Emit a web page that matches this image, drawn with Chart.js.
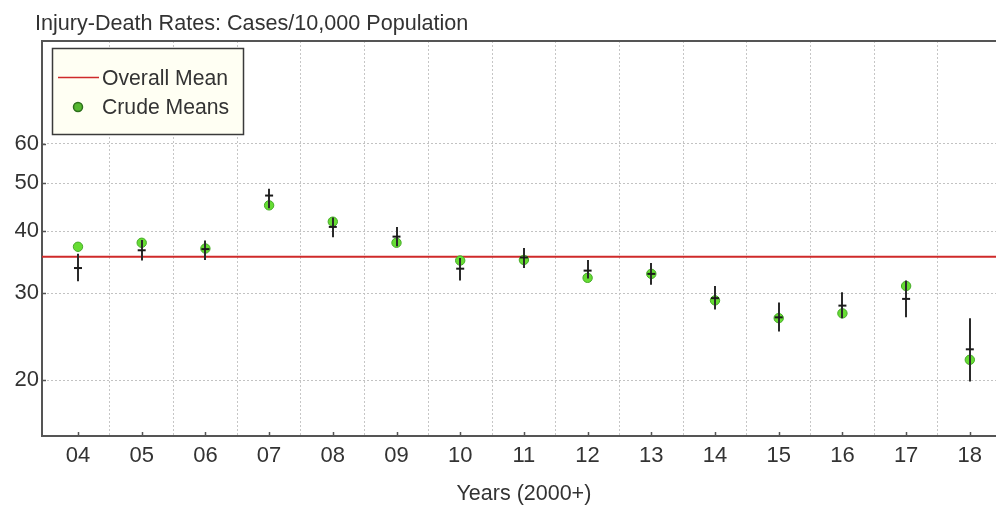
<!DOCTYPE html>
<html>
<head>
<meta charset="utf-8">
<title>Injury-Death Rates</title>
<script src="https://cdn.jsdelivr.net/npm/chart.js@4.4.1/dist/chart.umd.min.js"></script>
<style>
  html, body { margin: 0; padding: 0; background: #ffffff; overflow: hidden; }
  #wrap { width: 996px; height: 508px; }
</style>
</head>
<body>
<div id="wrap"><canvas id="c" width="996" height="508"></canvas></div>
<script>
// Injury-death rates per 10,000 population, 2004-2018
const years       = [4, 5, 6, 7, 8, 9, 10, 11, 12, 13, 14, 15, 16, 17, 18];
const tickLabels  = ['04', '05', '06', '07', '08', '09', '10', '11', '12', '13', '14', '15', '16', '17', '18'];
const crudeMeans  = [37.2, 37.9, 36.9, 45.1, 41.8, 37.9, 34.9, 35.0, 32.2, 32.8, 29.0, 26.7, 27.3, 31.0, 22.0];
const estimates   = [33.7, 36.6, 36.8, 47.2, 40.8, 39.0, 33.6, 35.4, 33.3, 32.8, 29.3, 26.8, 28.3, 29.2, 23.1];
const lowerBounds = [31.7, 34.9, 35.0, 44.5, 38.9, 37.3, 31.8, 33.7, 32.1, 31.2, 27.8, 25.1, 26.7, 26.8, 19.9];
const upperBounds = [36.0, 38.4, 38.3, 48.7, 42.6, 40.8, 35.3, 37.0, 35.0, 34.5, 31.0, 28.7, 30.1, 31.8, 26.7];
const overallMean = 35.5;
const yTicks      = [20, 30, 40, 50, 60];
const gridYears   = years.slice(0, -1).map(v => v + 0.5);

const chartTitle = 'Injury-Death Rates: Cases/10,000 Population';
const xTitle     = 'Years (2000+)';

const FONT = '"Liberation Sans", Arial, sans-serif';
const INK = '#333333';
const FRAME = '#555555';

// Vertical interval lines, drawn right after the crude-mean dots
const errorBars = {
  id: 'errorBars',
  afterDatasetDraw(chart, args) {
    if (args.index !== 1) return;
    const { ctx, chartArea, scales: { x, y } } = chart;
    ctx.save();
    ctx.beginPath();
    ctx.rect(chartArea.left, chartArea.top, chartArea.right - chartArea.left, chartArea.bottom - chartArea.top);
    ctx.clip();
    ctx.strokeStyle = '#2a2a2a';
    ctx.lineWidth = 2;
    years.forEach((yr, i) => {
      const px = Math.round(x.getPixelForValue(yr));
      ctx.beginPath();
      ctx.moveTo(px, y.getPixelForValue(upperBounds[i]));
      ctx.lineTo(px, y.getPixelForValue(lowerBounds[i]));
      ctx.stroke();
    });
    ctx.restore();
  }
};

// Top frame line, inward tick marks, titles and the boxed legend
const decorations = {
  id: 'decorations',
  afterDraw(chart) {
    const { ctx, chartArea: a, scales: { x, y } } = chart;
    ctx.save();

    // top frame
    ctx.strokeStyle = FRAME;
    ctx.lineWidth = 2;
    ctx.beginPath();
    ctx.moveTo(a.left - 1, a.top);
    ctx.lineTo(a.right, a.top);
    ctx.stroke();

    // inward tick marks
    ctx.lineWidth = 1.5;
    ctx.beginPath();
    x.ticks.forEach(t => {
      const px = Math.round(x.getPixelForValue(t.value)) + 0.5;
      ctx.moveTo(px, a.bottom);
      ctx.lineTo(px, a.bottom - 4);
    });
    y.ticks.forEach(t => {
      const py = Math.round(y.getPixelForValue(t.value)) + 0.5;
      ctx.moveTo(a.left, py);
      ctx.lineTo(a.left + 4, py);
    });
    ctx.stroke();

    // chart title
    ctx.fillStyle = INK;
    ctx.font = '21.6px ' + FONT;
    ctx.textAlign = 'left';
    ctx.textBaseline = 'alphabetic';
    ctx.fillText(chartTitle, 35, 30);

    // x-axis title, centred on the span of years
    ctx.textAlign = 'center';
    ctx.font = '21.5px ' + FONT;
    const mid = (years[0] + years[years.length - 1]) / 2;
    ctx.fillText(xTitle, x.getPixelForValue(mid), 500);

    // legend box
    const ds = chart.data.datasets;
    const lx = a.left + 10, ly = a.top + 7, lw = 191, lh = 86;
    ctx.fillStyle = '#fffff3';
    ctx.fillRect(lx, ly, lw, lh);
    ctx.strokeStyle = '#3a3a3a';
    ctx.lineWidth = 1.5;
    ctx.strokeRect(lx + 0.5, ly + 0.5, lw, lh);

    // legend entry: overall mean
    const meanDs = ds[2];
    ctx.strokeStyle = meanDs.borderColor;
    ctx.lineWidth = 1.5;
    ctx.beginPath();
    ctx.moveTo(lx + 6, ly + 29.5);
    ctx.lineTo(lx + 47, ly + 29.5);
    ctx.stroke();

    // legend entry: crude means
    const crudeDs = ds[1];
    ctx.beginPath();
    ctx.arc(lx + 26, ly + 59, 4.5, 0, Math.PI * 2);
    ctx.fillStyle = '#55b830';
    ctx.fill();
    ctx.strokeStyle = '#2e6f1c';
    ctx.lineWidth = 1.5;
    ctx.stroke();

    ctx.fillStyle = INK;
    ctx.font = '21.2px ' + FONT;
    ctx.textAlign = 'left';
    ctx.textBaseline = 'middle';
    ctx.fillText(meanDs.label, lx + 50, ly + 31);
    ctx.fillText(crudeDs.label, lx + 50, ly + 60.5);

    ctx.restore();
  }
};

const xMin = 3.435, xMax = 18.411;

// horizontal axes run flush to the canvas edge
const flushSides = s => { s.paddingLeft = 0; s.paddingRight = 0; };

new Chart(document.getElementById('c'), {
  type: 'scatter',
  data: {
    datasets: [
      {
        label: 'Estimate',
        data: years.map((yr, i) => ({ x: yr, y: estimates[i] })),
        pointStyle: 'line',
        pointRadius: 4,
        borderColor: '#1a1a1a',
        borderWidth: 2
      },
      {
        label: 'Crude Means',
        data: years.map((yr, i) => ({ x: yr, y: crudeMeans[i] })),
        pointStyle: 'circle',
        pointRadius: 4.7,
        backgroundColor: '#66dd33',
        borderColor: '#46aa28',
        borderWidth: 1
      },
      {
        label: 'Overall Mean',
        data: [
          { x: years[0] - 1, y: overallMean },
          { x: years[years.length - 1] + 1, y: overallMean }
        ],
        showLine: true,
        borderColor: '#cf2a2a',
        borderWidth: 2,
        pointRadius: 0
      }
    ]
  },
  options: {
    responsive: false,
    animation: false,
    devicePixelRatio: 1,
    layout: { autoPadding: false, padding: { top: 41, left: 0, right: 0, bottom: 0 } },
    plugins: {
      legend: { display: false },
      tooltip: { enabled: false },
      title: { display: false }
    },
    scales: {
      x: {
        type: 'linear',
        position: 'bottom',
        min: xMin,
        max: xMax,
        afterBuildTicks: s => { s.ticks = years.map(v => ({ value: v })); },
        afterFit: s => { s.height = 72; flushSides(s); },
        ticks: {
          autoSkip: false,
          maxRotation: 0,
          padding: 7,
          color: INK,
          font: { family: FONT, size: 22 },
          callback: v => tickLabels[years.indexOf(v)]
        },
        grid: { drawOnChartArea: false, drawTicks: false },
        border: { display: true, color: FRAME, width: 2 }
      },
      xGrid: {
        type: 'linear',
        position: 'bottom',
        min: xMin,
        max: xMax,
        afterBuildTicks: s => { s.ticks = gridYears.map(v => ({ value: v })); },
        afterFit: s => { s.height = 0; flushSides(s); },
        ticks: { display: false },
        grid: { color: '#c6c6c6', lineWidth: 1, drawTicks: false },
        border: { display: false, dash: [2, 2] }
      },
      y: {
        type: 'logarithmic',
        min: 15.44,
        max: 96.8,
        afterBuildTicks: s => { s.ticks = yTicks.map(v => ({ value: v })); },
        afterFit: s => { s.width = 42; },
        ticks: {
          padding: 3,
          color: INK,
          font: { family: FONT, size: 22 },
          callback: v => String(v)
        },
        grid: { color: '#c2c2c2', lineWidth: 1, drawTicks: false },
        border: { display: true, color: FRAME, width: 2, dash: [2, 2] }
      }
    }
  },
  plugins: [errorBars, decorations]
});
</script>
</body>
</html>
